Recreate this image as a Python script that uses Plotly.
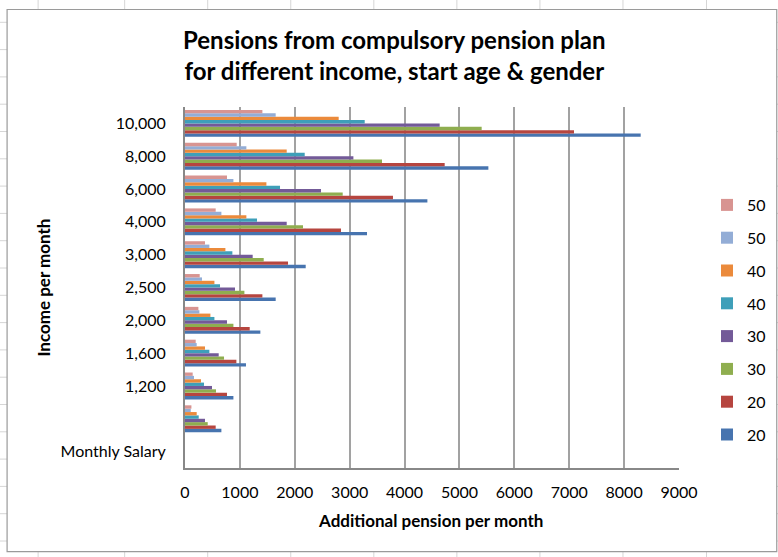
import plotly.graph_objects as go

# ---- data (bottom to top category order) ----
categories = ["Monthly Salary", " ", "1,200", "1,600", "2,000", "2,500",
              "3,000", "4,000", "6,000", "8,000", "10,000"]

series_names = ["20", "20", "30", "30", "40", "40", "50", "50"]
series_colors = ["#4774AF", "#B6453F", "#8FAE4F", "#735A98",
                 "#3E9FB9", "#EB8A3B", "#93ADD6", "#D89491"]

blue_20 = [None, 663, 882, 1111, 1373, 1652, 2199, 3316, 4416, 5527, 8302]
red_20 = [None, 559, 765, 936, 1179, 1410, 1877, 2842, 3789, 4731, 7087]
green_30 = [None, 414, 565, 711, 882, 1082, 1434, 2150, 2873, 3589, 5405]
purple_30 = [None, 364, 492, 614, 765, 911, 1233, 1853, 2478, 3068, 4640]
teal_40 = [None, 250, 346, 444, 536, 638, 863, 1312, 1731, 2181, 3274]
orange_40 = [None, 213, 292, 364, 463, 536, 736, 1118, 1483, 1853, 2800]
lightblue_50 = [None, 105, 164, 213, 262, 310, 444, 663, 882, 1118, 1652]
pink_50 = [None, 117, 140, 195, 244, 268, 364, 559, 765, 942, 1410]

series_values = [blue_20, red_20, green_30, purple_30,
                 teal_40, orange_40, lightblue_50, pink_50]

x_ticks = [0, 1000, 2000, 3000, 4000, 5000, 6000, 7000, 8000, 9000]

# ---- geometry (pixels) ----
W, H = 778, 557
PL, PR, PT, PB = 185.3, 679.0, 107.0, 468.0


def px(xpix):
    return (xpix - PL) / (PR - PL)


def py(ypix):
    return (PB - ypix) / (PB - PT)


FONT = "Lato, 'Open Sans', sans-serif"

fig = go.Figure()
n = len(series_names)
for i, (name, color, vals) in enumerate(zip(series_names, series_colors, series_values)):
    fig.add_trace(go.Bar(
        x=vals, y=categories, orientation="h", name=name,
        marker=dict(color=color, line=dict(width=0)),
        legendgroup="g%d" % i, legendrank=(n - i) * 10,
    ))

shapes = []
# spreadsheet background grid
sheet_cols = [38.5, 125, 208, 291, 374, 457, 540, 623, 706.5]
for cx in sheet_cols:
    shapes.append(dict(type="line", xref="paper", yref="paper", layer="below",
                       x0=px(cx), x1=px(cx), y0=py(H), y1=py(0),
                       line=dict(color="#D6D6D6", width=1)))
ry = 22.3
while ry < H:
    shapes.append(dict(type="line", xref="paper", yref="paper", layer="below",
                       x0=px(0), x1=px(W), y0=py(ry), y1=py(ry),
                       line=dict(color="#D6D6D6", width=1)))
    ry += 27.3
# chart area
shapes.append(dict(type="rect", xref="paper", yref="paper", layer="below",
                   x0=px(7.5), x1=px(776.7), y0=py(551.7), y1=py(9.5),
                   fillcolor="white", line=dict(color="#9A9A9A", width=1.2)))

annotations = [
    dict(text="<b>Pensions from compulsory pension plan<br>for different income, start age & gender</b>",
         xref="paper", yref="paper", x=px(395), y=py(55), xanchor="center", yanchor="middle",
         showarrow=False, font=dict(family=FONT, size=24, color="black")),
    dict(text="<b>Additional pension per month</b>", xref="paper", yref="paper",
         x=px(431), y=py(520), xanchor="center", yanchor="middle", showarrow=False,
         font=dict(family=FONT, size=17, color="black")),
    dict(text="<b>Income per month</b>", xref="paper", yref="paper",
         x=px(43), y=py(288), xanchor="center", yanchor="middle", showarrow=False,
         textangle=-90, font=dict(family=FONT, size=17, color="black")),
]

fig.update_layout(
    width=W, height=H,
    margin=dict(l=PL, r=W - PR, t=PT, b=H - PB, pad=0, autoexpand=False),
    paper_bgcolor="white", plot_bgcolor="rgba(0,0,0,0)",
    barmode="group", bargap=0.18, bargroupgap=0,
    font=dict(family=FONT, size=16, color="black"),
    shapes=shapes, annotations=annotations,
    showlegend=True,
    legend=dict(traceorder="grouped", tracegroupgap=9,
                xref="container", yref="container",
                x=707 / W, y=1 - 188 / H, xanchor="left", yanchor="top",
                bgcolor="rgba(0,0,0,0)", font=dict(family=FONT, size=16)),
)

fig.update_xaxes(range=[0, 9000], tickvals=x_ticks, ticktext=[str(t) for t in x_ticks],
                 showgrid=True, gridcolor="#A2A2A2", gridwidth=1.5,
                 showline=True, linecolor="#888888", linewidth=2,
                 zeroline=False, ticks="outside", ticklen=9, tickcolor="rgba(0,0,0,0)",
                 tickfont=dict(family=FONT, size=16))
fig.update_yaxes(type="category", categoryorder="array", categoryarray=categories,
                 range=[-0.5, len(categories) - 0.5],
                 showgrid=False, showline=True, linecolor="#888888", linewidth=2,
                 ticks="outside", ticklen=14, tickcolor="rgba(0,0,0,0)",
                 tickfont=dict(family=FONT, size=16))

fig.write_html("out.html", config={"displayModeBar": False},
               post_script="document.body.style.margin='0';document.body.style.padding='0';")
